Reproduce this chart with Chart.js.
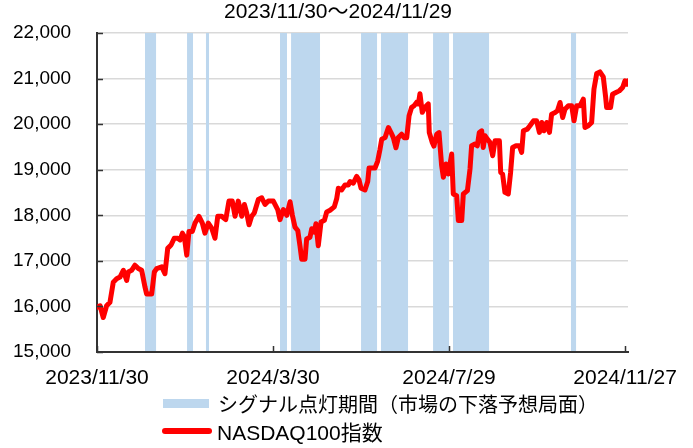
<!DOCTYPE html>
<html>
<head>
<meta charset="utf-8">
<script src="https://cdn.jsdelivr.net/npm/chart.js@4"></script>
<style>
  body { margin: 0; background: #fff; }
  #wrap { position: relative; width: 693px; height: 448px; }
  #legend { position: absolute; left: 162px; top: 389px; font-family: "Liberation Sans", "Noto Sans CJK JP", sans-serif; color: #000; }
  .item { display: flex; align-items: center; height: 28px; white-space: nowrap; }
  .sw-band { width: 46px; height: 9px; background: #bdd7ee; margin: 0 9px 0 1px; }
  .sw-line { width: 50px; height: 6px; background: #ff0000; border-radius: 3px; margin-right: 5px; }
</style>
</head>
<body>
<div id="wrap">
  <canvas id="chart" width="693" height="448"></canvas>
  <div id="legend">
    <div class="item" style="font-size:20px"><span class="sw-band"></span>シグナル点灯期間（市場の下落予想局面）</div>
    <div class="item" style="font-size:21px"><span class="sw-line"></span>NASDAQ100指数</div>
  </div>
</div>
<script>
const FONT = '"Liberation Sans", "Noto Sans CJK JP", sans-serif';

// x = days since 2023/11/30
const tickDays = [0, 121, 242, 363];
const tickLabels = ['2023/11/30', '2024/3/30', '2024/7/29', '2024/11/27'];

// signal periods (days since start)
const bandStart = [33.0, 61.9, 74.9, 125.8, 133.4, 181.5, 195.2, 231.0, 244.7, 325.8];
const bandEnd   = [40.6, 66.0, 77.0, 130.6, 153.3, 192.5, 213.8, 242.0, 269.5, 329.3];

// NASDAQ100
const days = [
  0, 2.1, 4.3, 6.6, 8.9, 11.2, 13.5, 15.8, 18.1, 20.4, 21.5, 23.8, 26.1, 28.4, 30.7,
  33, 34.1, 37.6, 39.4, 41, 44.5, 46.7, 48.6, 50.9, 53.1, 55.5, 57.1, 58.7, 60, 61.7,
  63.2, 65.5, 67.4, 70.1, 72.4, 74.2, 76.5, 78.8, 81.1, 83, 85.7, 88.5, 90.7, 93, 94.9,
  97.1, 99.5, 101.3, 102.9, 104.5, 106.3, 108.1, 110.9, 113.2, 115.5, 117.8, 121.2, 124.2, 125.8, 128.1,
  130.4, 132.7, 134.3, 136.1, 138, 139.5, 140.7, 143, 144.1, 146.4, 147.6, 149.4, 150.5, 152.1, 154,
  156.3, 157.9, 160.2, 163.1, 164.8, 165.9, 168.2, 170.5, 172.8, 173.9, 176.2, 178.5, 180.1, 181.5, 184.2,
  186.1, 187, 189.3, 191.1, 192.9, 194.5, 195.7, 198, 200.3, 202.1, 203.7, 205.5, 207.1, 209.4, 211.2,
  212.9, 214.5, 216.3, 218.1, 219.8, 220.9, 222, 223.6, 225.5, 227.7, 228.4, 230.5, 231.6, 233.5, 235.1,
  236.9, 238.1, 239.9, 241.5, 243.8, 244.9, 247.2, 248.4, 250.7, 251.8, 254.6, 256.4, 257.5, 259.8, 261.4,
  262.8, 264.4, 265.5, 266.7, 268.3, 270.1, 272, 273.6, 276.6, 277.5, 278.8, 280.4, 282.7, 284.3, 285.7,
  288, 290.3, 291.9, 293.1, 295.8, 297.6, 300, 302.2, 304.1, 305.7, 307.3, 309.1, 311, 312.5, 314.9,
  316.5, 318.3, 320.1, 321.7, 324, 326.3, 327.9, 329.7, 332, 334.3, 335.4, 337.7, 340, 341.6, 343.5,
  345.7, 348, 349.6, 350.3, 353, 354.4, 356.7, 359, 361.3, 362.9, 364.5, 365
];
const nasdaq = [
  15980, 16015, 15756, 16015, 16090, 16533, 16607, 16644, 16793, 16570, 16756, 16793, 16904, 16830, 16793,
  16422, 16274, 16274, 16756, 16830, 16867, 16719, 17274, 17348, 17496, 17496, 17459, 17607, 17533, 17126,
  17644, 17644, 17830, 17978, 17830, 17607, 17830, 17719, 17496, 17978, 17978, 17904, 18311, 18311, 17978,
  18311, 17978, 18237, 18052, 17793, 17978, 18052, 18348, 18385, 18237, 18311, 18311, 18126, 17904, 18126,
  18000, 18296, 18000, 17741, 17667, 17333, 17037, 17037, 17481, 17519, 17704, 17630, 17815, 17333, 17852,
  17889, 18074, 18111, 18185, 18370, 18593, 18556, 18667, 18667, 18741, 18704, 18852, 18778, 18593, 18556,
  18741, 19037, 19037, 19037, 19185, 19444, 19667, 19704, 19926, 19815, 19704, 19481, 19704, 19778, 19704,
  19704, 20185, 20370, 20407, 20481, 20444, 20667, 20259, 20370, 20444, 19815, 19593, 19519, 19778, 19815,
  19088, 18833, 19124, 18905, 19343, 18467, 18430, 17883, 17883, 18467, 18540, 19015, 19525, 19562, 19525,
  19818, 19854, 19489, 19745, 19672, 19599, 19307, 19635, 19635, 18941, 18905, 18503, 18467, 18941, 19489,
  19525, 19525, 19380, 19854, 19891, 19964, 20073, 20073, 19818, 20037, 19854, 20037, 19818, 20219, 20255,
  20292, 20475, 20146, 20328, 20402, 20402, 20073, 20402, 20402, 20548, 19927, 19964, 20037, 20767, 21110,
  21146, 21037, 20600, 20365, 20365, 20657, 20694, 20730, 20803, 20949, 20876, 20949
];

const signalBands = {
  id: 'signalBands',
  beforeDatasetsDraw(chart) {
    const { ctx, chartArea: a, scales: { x } } = chart;
    ctx.save();
    ctx.fillStyle = '#bdd7ee';
    bandStart.forEach((s, i) => {
      const x0 = x.getPixelForValue(s);
      const x1 = x.getPixelForValue(bandEnd[i]);
      ctx.fillRect(x0, a.top, x1 - x0, a.bottom - a.top - 1);
    });
    ctx.restore();
  }
};

// small tick marks pointing into the plot
const innerTicks = {
  id: 'innerTicks',
  afterDraw(chart) {
    const { ctx, chartArea: a, scales: { x, y } } = chart;
    ctx.save();
    ctx.strokeStyle = '#333';
    ctx.lineWidth = 1.5;
    ctx.beginPath();
    y.ticks.forEach(t => {
      const py = Math.round(y.getPixelForValue(t.value)) + 0.5;
      ctx.moveTo(a.left, py);
      ctx.lineTo(a.left + 6, py);
    });
    x.ticks.forEach(t => {
      const px = Math.round(x.getPixelForValue(t.value)) + 0.5;
      ctx.moveTo(px, a.bottom);
      ctx.lineTo(px, a.bottom - 6);
    });
    ctx.stroke();
    ctx.restore();
  }
};

new Chart(document.getElementById('chart'), {
  type: 'line',
  data: {
    datasets: [{
      label: 'NASDAQ100指数',
      data: days.map((d, i) => ({ x: d, y: nasdaq[i] })),
      borderColor: '#ff0000',
      borderWidth: 5,
      pointRadius: 0,
      tension: 0,
      borderJoinStyle: 'round',
      borderCapStyle: 'round',
    }]
  },
  options: {
    responsive: false,
    animation: false,
    layout: { padding: { left: 13, right: 30, top: 0, bottom: 0 } },
    plugins: {
      legend: { display: false },
      tooltip: { enabled: false },
      title: {
        display: true,
        text: '2023/11/30～2024/11/29',
        color: '#000',
        font: { family: FONT, size: 21, weight: 'normal' },
        padding: { top: 0, bottom: 7.8 },
      },
    },
    scales: {
      x: {
        type: 'linear',
        min: 0,
        max: 365,
        afterBuildTicks: s => { s.ticks = tickDays.map(v => ({ value: v })); },
        afterFit: s => { s.height = 96; },
        ticks: {
          callback: (v, i) => tickLabels[i],
          color: '#000',
          font: { family: FONT, size: 21 },
          padding: 14,
          maxRotation: 0,
          autoSkip: false,
        },
        grid: { display: false, drawTicks: false },
        border: { color: '#333', width: 2 },
      },
      y: {
        min: 15000,
        max: 22000,
        afterFit: s => { s.width = 84; },
        ticks: {
          stepSize: 1000,
          callback: v => v.toLocaleString('en-US'),
          color: '#000',
          font: { family: FONT, size: 19 },
          crossAlign: 'far',
          padding: 0,
        },
        grid: { color: '#d9d9d9', lineWidth: 1.5, drawTicks: false },
        border: { color: '#333', width: 2 },
      },
      // empty right-hand spacer so the plot ends where the reference's does
      spacer: {
        position: 'right',
        afterFit: s => { s.width = 35; },
        ticks: { display: false },
        grid: { display: false },
        border: { display: false },
      },
    },
  },
  plugins: [signalBands, innerTicks],
});
</script>
</body>
</html>
